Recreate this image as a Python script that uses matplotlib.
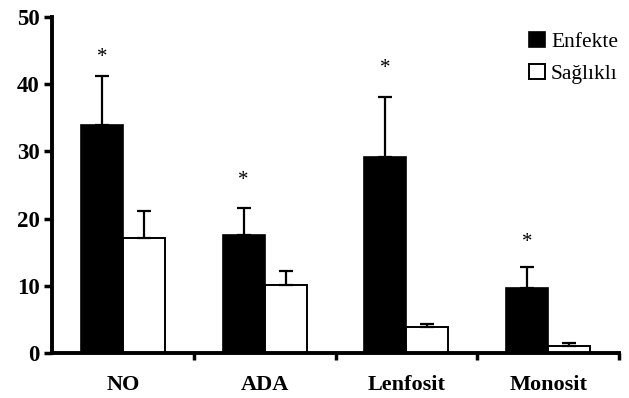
import numpy as np
import matplotlib
matplotlib.use("Agg")
import matplotlib.pyplot as plt

# ---- data -----------------------------------------------------------------
categories = ["NO", "ADA", "Lenfosit", "Monosit"]
enfekte = [33.9, 17.6, 29.2, 9.7]
enfekte_err = [7.3, 4.0, 8.9, 3.1]
saglikli = [17.1, 10.1, 3.9, 1.0]
saglikli_err = [4.0, 2.1, 0.4, 0.5]
star_y = [44.0, 25.7, 42.4, 16.5]   # significance marks above Enfekte bars

plt.rcParams["font.family"] = ["Liberation Serif", "DejaVu Serif"]

fig = plt.figure(figsize=(6.29, 3.98), dpi=100)
ax = fig.add_axes([52 / 629, 45 / 398, 567 / 629, 336 / 398])

x = np.arange(len(categories))
w = 0.296
ekw = dict(elinewidth=1.6, capthick=1.6, capsize=4.7, ecolor="black")

ax.bar(x - w / 2, enfekte, w, color="black", edgecolor="black", lw=1.2,
       label="Enfekte")
ax.errorbar(x - w / 2, enfekte, yerr=[np.zeros(4), enfekte_err], fmt="none",
            **ekw)
ax.bar(x + w / 2, saglikli, w, color="white", edgecolor="black", lw=1.4,
       label="Sağlıklı")
ax.errorbar(x + w / 2, saglikli, yerr=[np.zeros(4), saglikli_err], fmt="none",
            **ekw)

for xi, yi in zip(x - w / 2, star_y):
    ax.text(xi, yi, "*", ha="center", va="center", fontsize=15)

ax.set_xlim(-0.5, 3.5)
ax.set_ylim(0, 50)
ax.set_yticks(range(0, 51, 10))
ax.set_yticklabels(range(0, 51, 10), fontsize=16.5, fontweight="bold")

# ticks at the category boundaries, labels at the centres
ax.set_xticks(np.arange(4) + 0.5)
ax.set_xticklabels([])
ax.set_xticks(x, minor=True)
ax.set_xticklabels(categories, minor=True, fontsize=16, fontweight="bold")
ax.tick_params(axis="x", which="minor", length=0, pad=16)
ax.tick_params(axis="x", which="major", direction="out", length=5, width=2.5)
ax.tick_params(axis="y", direction="out", length=6, width=2.5, pad=3)

for s in ("top", "right"):
    ax.spines[s].set_visible(False)
for s in ("left", "bottom"):
    ax.spines[s].set_linewidth(2.8)

ax.legend(loc="upper right", bbox_to_anchor=(1.025, 1.0), frameon=False,
          fontsize=15.5, handlelength=0.72, handleheight=0.72,
          handletextpad=0.3, labelspacing=0.55, borderaxespad=0.3)

fig.savefig("out.png", dpi=100)
